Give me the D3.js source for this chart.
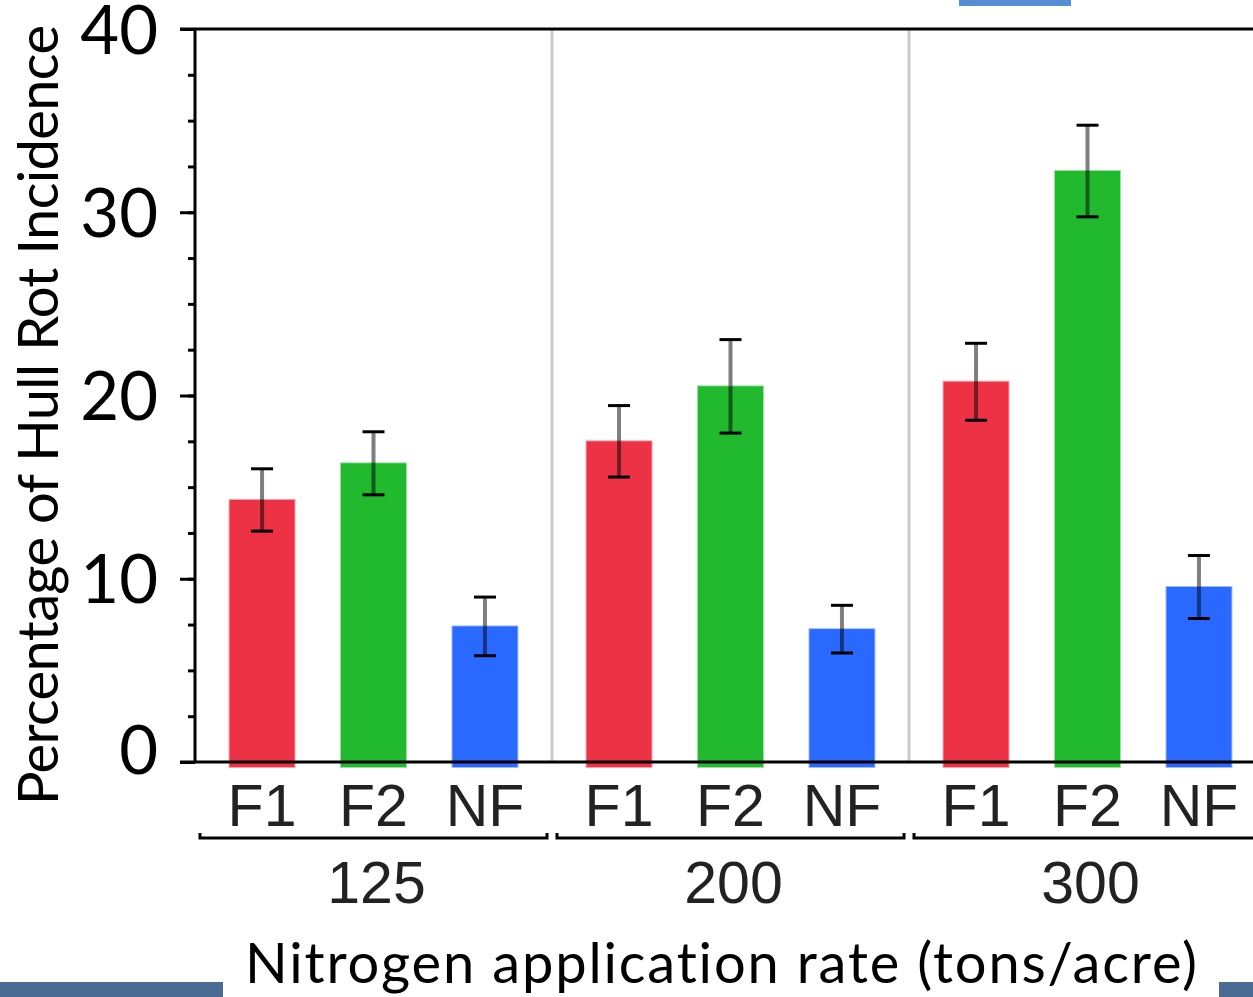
<!DOCTYPE html>
<html>
<head>
<meta charset="utf-8">
<script src="https://cdn.jsdelivr.net/npm/d3@7/dist/d3.min.js"></script>
<style>
  html, body { margin: 0; padding: 0; background: #ffffff; }
  svg { display: block; }
  .title { font-variant-ligatures: none; font-feature-settings: "liga" 0, "clig" 0; }
</style>
</head>
<body>
<svg id="chart" width="1253" height="997"></svg>
<script>
// Nitrogen application rates (groups) and fertiliser treatments (bars)
const rates = ["125", "200", "300"];
const treatments = ["F1", "F2", "NF"];

// Mean hull rot incidence (%) per treatment, one value per rate
const meanF1 = [14.3, 17.5, 20.75];
const meanF2 = [16.3, 20.5, 32.25];
const meanNF = [7.4, 7.25, 9.55];

// Error bar half-widths (%)
const errF1 = [1.7, 1.95, 2.1];
const errF2 = [1.72, 2.55, 2.5];
const errNF = [1.6, 1.3, 1.72];

const yTicks = [0, 10, 20, 30, 40];
const yMinorTicks = d3.range(0, 40.01, 2.5);

const colors = { F1: "#ee3246", F2: "#21ba2e", NF: "#2a69ff" };

const yTitle = "Percentage of Hull Rot Incidence";
const xTitle = "Nitrogen application rate (tons/acre)";

const means = { F1: meanF1, F2: meanF2, NF: meanNF };
const errs = { F1: errF1, F2: errF2, NF: errNF };
const rows = [];
rates.forEach((r, i) => treatments.forEach(t => rows.push({
  rate: r, treatment: t, value: means[t][i], err: errs[t][i]
})));

const svg = d3.select("#chart");

const axisX = 195, groupW = 357;
const x0 = d3.scaleBand().domain(rates).range([axisX, axisX + groupW * rates.length]).padding(0);
const x1 = d3.scaleBand().domain(treatments).range([0, groupW]).paddingInner(0.417).paddingOuter(0.31);
const y = d3.scaleLinear().domain([0, 40]).range([762, 29]);

// decorative slide bars
svg.append("rect").attr("x", 959).attr("y", 0).attr("width", 112).attr("height", 6).attr("fill", "#558ed5");
svg.append("rect").attr("x", 0).attr("y", 982).attr("width", 223).attr("height", 15).attr("fill", "#4a6c93");
svg.append("rect").attr("x", 1219).attr("y", 982).attr("width", 34).attr("height", 15).attr("fill", "#4a6c93");

// group separators
svg.append("g").selectAll("line").data(rates.slice(1)).join("line")
  .attr("x1", d => x0(d)).attr("x2", d => x0(d))
  .attr("y1", y(40)).attr("y2", y(0))
  .attr("stroke", "#cbcbcb").attr("stroke-width", 3);

// bars
const barG = svg.append("g");
barG.selectAll("rect").data(rows).join("rect")
  .attr("x", d => x0(d.rate) + x1(d.treatment))
  .attr("width", x1.bandwidth())
  .attr("y", d => y(d.value))
  .attr("height", d => y(0) + 5 - y(d.value))
  .attr("fill", d => colors[d.treatment])
  .attr("stroke", d => colors[d.treatment])
  .attr("stroke-opacity", 0.45)
  .attr("stroke-width", 2);

// error bars
const errG = svg.append("g");
const cx = d => x0(d.rate) + x1(d.treatment) + x1.bandwidth() / 2;
errG.selectAll("line.stem").data(rows).join("line").attr("class", "stem")
  .attr("x1", cx).attr("x2", cx)
  .attr("y1", d => y(d.value + d.err)).attr("y2", d => y(d.value - d.err))
  .attr("stroke", "#000").attr("stroke-opacity", 0.5).attr("stroke-width", 4);
["top", "bot"].forEach(k => {
  errG.selectAll("line.cap-" + k).data(rows).join("line").attr("class", "cap-" + k)
    .attr("x1", d => cx(d) - 11).attr("x2", d => cx(d) + 11)
    .attr("y1", d => y(k === "top" ? d.value + d.err : d.value - d.err))
    .attr("y2", d => y(k === "top" ? d.value + d.err : d.value - d.err))
    .attr("stroke", "#000").attr("stroke-width", 3);
});

// y axis: minor and major ticks
const yAxisMinor = d3.axisLeft(y).tickValues(yMinorTicks).tickSize(7).tickFormat("");
const gMinor = svg.append("g").attr("transform", `translate(${axisX},0)`).call(yAxisMinor);
gMinor.select(".domain").remove();
gMinor.selectAll("line").attr("stroke", "#000").attr("stroke-width", 3);

const yAxis = d3.axisLeft(y).tickValues(yTicks).tickSize(15).tickPadding(22);
const gy = svg.append("g").attr("transform", `translate(${axisX},0)`).call(yAxis);
gy.select(".domain").attr("stroke", "#000").attr("stroke-width", 3).attr("d", `M0,${y(40)}V${y(0)}`);
gy.selectAll("line").attr("stroke", "#000").attr("stroke-width", 3);
gy.selectAll("text")
  .attr("font-family", "Lato, 'Open Sans', sans-serif")
  .attr("font-size", 67)
  .attr("fill", "#000")
  .attr("dy", "0.36em")
  .filter(d => d === 0).attr("dy", "0.17em");

// frame top and baseline
svg.append("line").attr("x1", 180).attr("x2", 1253).attr("y1", y(40)).attr("y2", y(40))
  .attr("stroke", "#000").attr("stroke-width", 3);
svg.append("line").attr("x1", 180).attr("x2", 1253).attr("y1", y(0)).attr("y2", y(0))
  .attr("stroke", "#000").attr("stroke-width", 3);

// treatment labels
svg.append("g").selectAll("text").data(rows).join("text")
  .attr("x", cx).attr("y", 826)
  .attr("text-anchor", "middle")
  .attr("font-family", "'Liberation Sans', Arial, sans-serif")
  .attr("font-size", 59)
  .attr("fill", "#222")
  .text(d => d.treatment);

// group brackets
const brG = svg.append("g").attr("fill", "none").attr("stroke", "#000").attr("stroke-width", 3);
brG.selectAll("path").data(rates).join("path")
  .attr("d", d => {
    const a = x0(d) + 5, b = x0(d) + x0.bandwidth() - 5;
    return `M${a},833V838H${b}V833`;
  });

// rate labels
svg.append("g").selectAll("text").data(rates).join("text")
  .attr("x", d => x0(d) + x0.bandwidth() / 2 + 3).attr("y", 903)
  .attr("text-anchor", "middle")
  .attr("font-family", "'Liberation Sans', Arial, sans-serif")
  .attr("font-size", 59)
  .attr("fill", "#222")
  .text(d => d);

// axis titles
svg.append("text")
  .attr("class", "title")
  .attr("transform", "translate(58,415) rotate(-90)")
  .attr("text-anchor", "middle")
  .attr("font-family", "Lato, 'Open Sans', sans-serif")
  .attr("font-size", 56)
  .attr("textLength", 780)
  .attr("lengthAdjust", "spacing")
  .attr("fill", "#000")
  .text(yTitle);

svg.append("text")
  .attr("class", "title")
  .attr("x", 721).attr("y", 983)
  .attr("text-anchor", "middle")
  .attr("font-family", "Lato, 'Open Sans', sans-serif")
  .attr("font-size", 56)
  .attr("textLength", 952)
  .attr("lengthAdjust", "spacing")
  .attr("fill", "#000")
  .text(xTitle);
</script>
</body>
</html>
